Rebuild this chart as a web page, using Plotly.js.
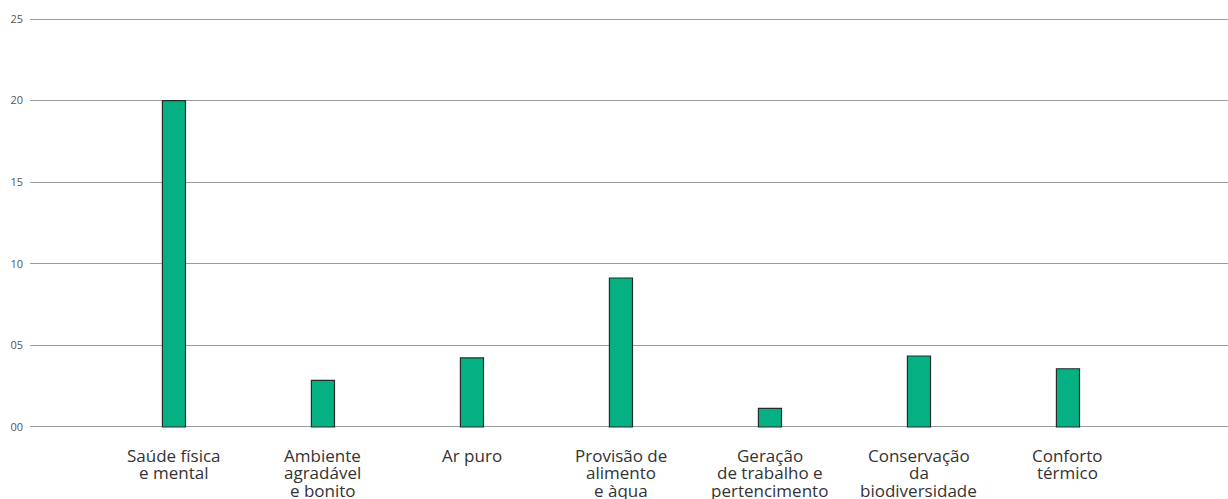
<!DOCTYPE html>
<html>
<head>
<meta charset="utf-8">
<script src="https://cdn.plot.ly/plotly-3.0.1.min.js"></script>
<style>html,body{margin:0;padding:0;background:#fff;}#chart{width:1228px;height:499px;}</style>
</head>
<body>
<div id="chart"></div>
<script>
const categories = [
  "Saúde física<br>e mental",
  "Ambiente<br>agradável<br>e bonito",
  "Ar puro",
  "Provisão de<br>alimento<br>e àqua",
  "Geração<br>de trabalho e<br>pertencimento",
  "Conservação<br>da<br>biodiversidade",
  "Conforto<br>térmico"
];
const values = [20, 2.86, 4.23, 9.13, 1.14, 4.35, 3.57];
const yTickVals = [0, 5, 10, 15, 20, 25];
const yTickText = ["00", "05", "10", "15", "20", "25"];

const idx = categories.map((c, i) => i);

const trace = {
  type: "bar",
  x: idx,
  y: values,
  width: 0.155,
  marker: {color: "#05b083", line: {color: "#2a2a2a", width: 1.2}},
  hoverinfo: "skip"
};

// category labels: one annotation per text line, for tight line spacing
const LINE_GAP = 17.5, FIRST_OFFSET = 27;
const annotations = [];
categories.forEach((c, i) => {
  c.split("<br>").forEach((line, j) => {
    annotations.push({
      x: i, xref: "x", y: 0, yref: "paper",
      text: line, showarrow: false,
      xanchor: "center", yanchor: "middle",
      yshift: -(FIRST_OFFSET + j * LINE_GAP),
      font: {family: "Open Sans, sans-serif", size: 17, color: "#333"}
    });
  });
});

const layout = {
  width: 1228, height: 499,
  margin: {l: 30, r: 0, t: 18, b: 71, pad: 0},
  paper_bgcolor: "#fff", plot_bgcolor: "#fff",
  showlegend: false,
  bargap: 0,
  annotations: annotations,
  xaxis: {
    range: [-0.966, 7.074],
    showticklabels: false,
    showgrid: false, zeroline: false, showline: false,
    ticks: ""
  },
  yaxis: {
    range: [-0.062, 25.062],
    tickvals: yTickVals,
    ticktext: yTickText,
    showgrid: true, gridcolor: "#9c9c9c", gridwidth: 1,
    zeroline: false, showline: false,
    ticks: "",
    ticklabelstandoff: 6,
    tickfont: {family: "Open Sans, sans-serif", size: 11, color: "#555"}
  }
};

Plotly.newPlot("chart", [trace], layout, {displayModeBar: false, staticPlot: true});
</script>
</body>
</html>
